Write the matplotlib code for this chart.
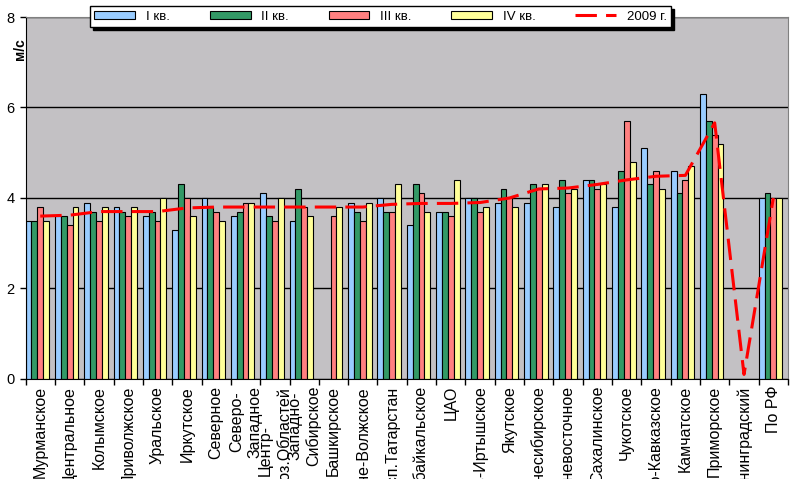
import matplotlib
matplotlib.use("Agg")
import matplotlib.pyplot as plt
import numpy as np

plt.rcParams['font.family'] = ['Liberation Sans', 'DejaVu Sans']

nan = np.nan
regions = ['Мурманское', 'Центральное', 'Колымское', 'Приволжское', 'Уральское',
           'Иркутское', 'Северное', 'Северо-\nЗападное', 'Центр-\nЧерноз.Областей',
           'Западно-\nСибирское', 'Башкирское', 'Верхне-Волжское', 'Респ.Татарстан',
           'Забайкальское', 'ЦАО', 'Обь-Иртышское', 'Якутское', 'Среднесибирское',
           'Дальневосточное', 'Сахалинское', 'Чукотское', 'Северо-Кавказское',
           'Камчатское', 'Приморское', 'Калининградский', 'По РФ']

q1 = [3.5, 3.6, 3.9, 3.8, 3.6, 3.3, 4.0, 3.6, 4.1, 3.5, nan, 3.9, 4.0,
      3.4, 3.7, 4.0, 3.9, 3.9, 3.8, 4.4, 3.8, 5.1, 4.6, 6.3, nan, 4.0]
q2 = [3.5, 3.6, 3.7, 3.7, 3.7, 4.3, 3.8, 3.7, 3.6, 4.2, nan, 3.7, 3.7,
      4.3, 3.7, 4.0, 4.2, 4.3, 4.4, 4.4, 4.6, 4.3, 4.1, 5.7, nan, 4.1]
q3 = [3.8, 3.4, 3.5, 3.6, 3.5, 4.0, 3.7, 3.9, 3.5, 3.8, 3.6, 3.5, 3.7,
      4.1, 3.6, 3.7, 4.0, 4.2, 4.1, 4.2, 5.7, 4.6, 4.4, 5.4, nan, 4.0]
q4 = [3.5, 3.8, 3.8, 3.8, 4.0, 3.6, 3.5, 3.9, 4.0, 3.6, 3.8, 3.9, 4.3,
      3.7, 4.4, 3.8, 3.8, 4.3, 4.2, 4.3, 4.8, 4.2, 4.7, 5.2, nan, 4.0]
y2009 = [3.6, 3.62, 3.7, 3.7, 3.7, 3.78, 3.8, 3.8, 3.8, 3.8, 3.8, 3.8, 3.86,
         3.88, 3.88, 3.9, 4.0, 4.2, 4.22, 4.3, 4.4, 4.48, 4.5, 5.66, 0.1, 4.0]

series = [(q1, '#99ccff', 'I кв.'), (q2, '#339966', 'II кв.'),
          (q3, '#ff8080', 'III кв.'), (q4, '#ffff99', 'IV кв.')]

fig = plt.figure(figsize=(8, 4.79), dpi=100)
ax = fig.add_axes([0.032, 0.2088, 0.953, 0.7557])
ax.set_facecolor('#c3c1c4')

x = np.arange(len(regions))
w = 0.2
handles = []
for k, (vals, col, lab) in enumerate(series):
    b = ax.bar(x - 0.4 + k * w, vals, width=w, color=col, edgecolor='black',
               linewidth=0.8, label=lab, zorder=2)
    handles.append(b)

ln, = ax.plot(x, y2009, color='red', lw=2.2, dashes=(7, 3), label='2009 г.', zorder=3)
handles.append(ln)

ax.set_xlim(-0.5, len(regions) - 0.5)
ax.set_ylim(0, 8)
ax.set_yticks([0, 2, 4, 6, 8])
ax.yaxis.grid(True, color='black', lw=1, zorder=1)
ax.set_axisbelow(True)
ax.tick_params(axis='y', labelsize=10.5, length=4, width=1, pad=4)

ax.set_xticks(x)
ax.set_xticklabels(regions, rotation=90, fontsize=11.5, linespacing=1.25)
ax.set_xticks(np.arange(len(regions) + 1) - 0.5, minor=True)
ax.tick_params(axis='x', which='major', length=0, pad=5)
ax.tick_params(axis='x', which='minor', length=4, width=1)

for s in ['top', 'right']:
    ax.spines[s].set_color('#808080')
for s in ['left', 'bottom']:
    ax.spines[s].set_color('black')

fig.text(0.025, 0.898, 'м/с', rotation=90, fontweight='bold', fontsize=10,
         ha='center', va='center')

leg = fig.legend(handles, [h.get_label() for h in handles],
                 loc='center', bbox_to_anchor=(0.104, 0.9436, 0.7435, 0.0439),
                 mode='expand', ncol=5, fontsize=9.5, frameon=True, fancybox=False,
                 edgecolor='black', framealpha=1, handlelength=3.1,
                 handleheight=0.6, borderpad=0.35,
                 shadow={'color': 'black', 'alpha': 1})
leg.get_frame().set_linewidth(1)

fig.savefig('out.png', dpi=100)
